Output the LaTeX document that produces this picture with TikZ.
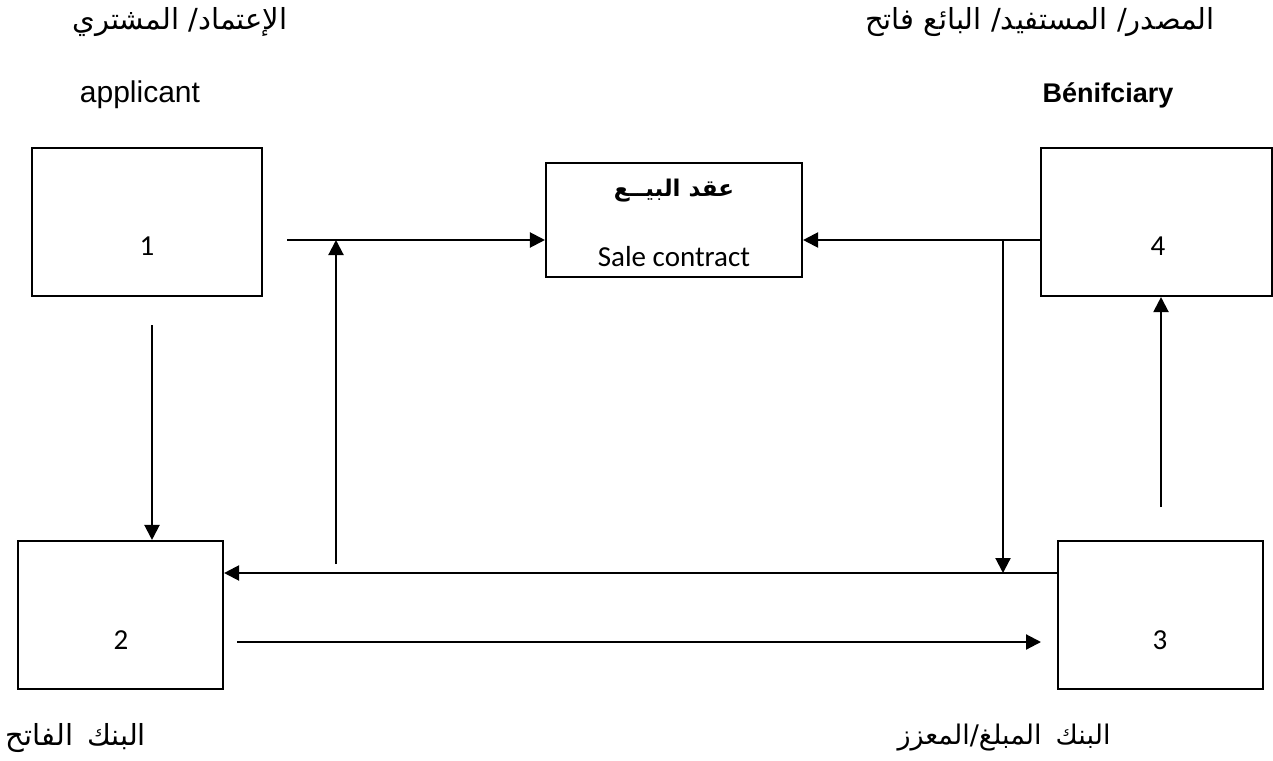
\documentclass[tikz,border=0pt]{standalone}
\usepackage{fontspec}
\usetikzlibrary{arrows.meta}
\setmainfont{Liberation Sans}
\newfontfamily\arabicfont[Script=Arabic]{DejaVu Sans}
\newfontfamily\calib{Carlito}
\TeXXeTstate=1
\begin{document}
\begin{tikzpicture}[x=1pt,y=-1pt,
  box/.style={draw,line width=2.1pt,minimum width=#1,inner sep=0pt},
  conn/.style={line width=2.1pt},
  arr/.style={conn,-{Triangle[length=15pt,width=15pt]}},
  num/.style={font=\calib\fontsize{29}{34}\selectfont,inner sep=0pt},
  ar/.style={font=\arabicfont\fontsize{29}{34}\selectfont,inner sep=0pt},
  lat/.style={inner sep=0pt}]
\useasboundingbox (0,0) rectangle (1273,760);

% parties
\node[box=230pt,minimum height=148pt] (b1) at (147,222) {};
\node[box=231pt,minimum height=148pt] (b4) at (1156.5,222) {};
\node[box=205pt,minimum height=148pt] (b2) at (120.5,615) {};
\node[box=205pt,minimum height=148pt] (b3) at (1160.5,615) {};
\node[num] (n1) at (147,246) {1};
\node[num] (n4) at (1158,246) {4};
\node[num] (n2) at (121,640) {2};
\node[num] (n3) at (1160,640) {3};

% sale contract
\node[box=256pt,minimum height=114pt] (sale) at (674,220) {};
\node[font=\arabicfont\bfseries\fontsize{23}{27}\selectfont,inner sep=0pt] (saleAr) at (674,191) {\beginR عقد\hspace{8pt}البيــع\endR};
\node[num] (saleEn) at (674,257) {Sale contract};

% headings
\node[ar] (tl) at (180,22) {\beginR الإعتماد/ المشتري\endR};
\node[lat,font=\fontsize{30}{36}\selectfont] (app) at (140,95) {applicant};
\node[ar] (tr) at (1040,22) {\beginR المصدر/ المستفيد/ البائع فاتح\endR};
\node[lat,font=\bfseries\fontsize{27}{32}\selectfont] (ben) at (1108,95) {Bénifciary};
\node[ar] (bl) at (76,738) {\beginR البنك\hspace{14pt}الفاتح\endR};
\node[ar,font=\arabicfont\fontsize{27}{32}\selectfont] (br) at (1004,738) {\beginR البنك\hspace{14pt}المبلغ/المعزز\endR};

% connector ends
\coordinate (c1) at (287,240);
\coordinate (c2) at (336,564);
\coordinate (j1) at (1003,240);
\coordinate (j2) at (1003,573);
\coordinate (c3) at (237,642);
\coordinate (c3e) at (1041,642);
\coordinate (c4) at (1161,507);
\coordinate (c5) at (152,325);

\draw[arr] (c1) -- (c1 -| sale.west);
\draw[arr] (c2) -- (c2 |- c1);
\draw[arr] (b4.west |- j1) -- (j1 -| sale.east);
\draw[arr] (j1) -- (j2);
\draw[arr] (b3.west |- j2) -- (j2 -| b2.east);
\draw[arr] (c3) -- (c3e);
\draw[arr] (c4) -- (c4 |- b4.south);
\draw[arr] (c5) -- (c5 |- b2.north);
\end{tikzpicture}
\end{document}
